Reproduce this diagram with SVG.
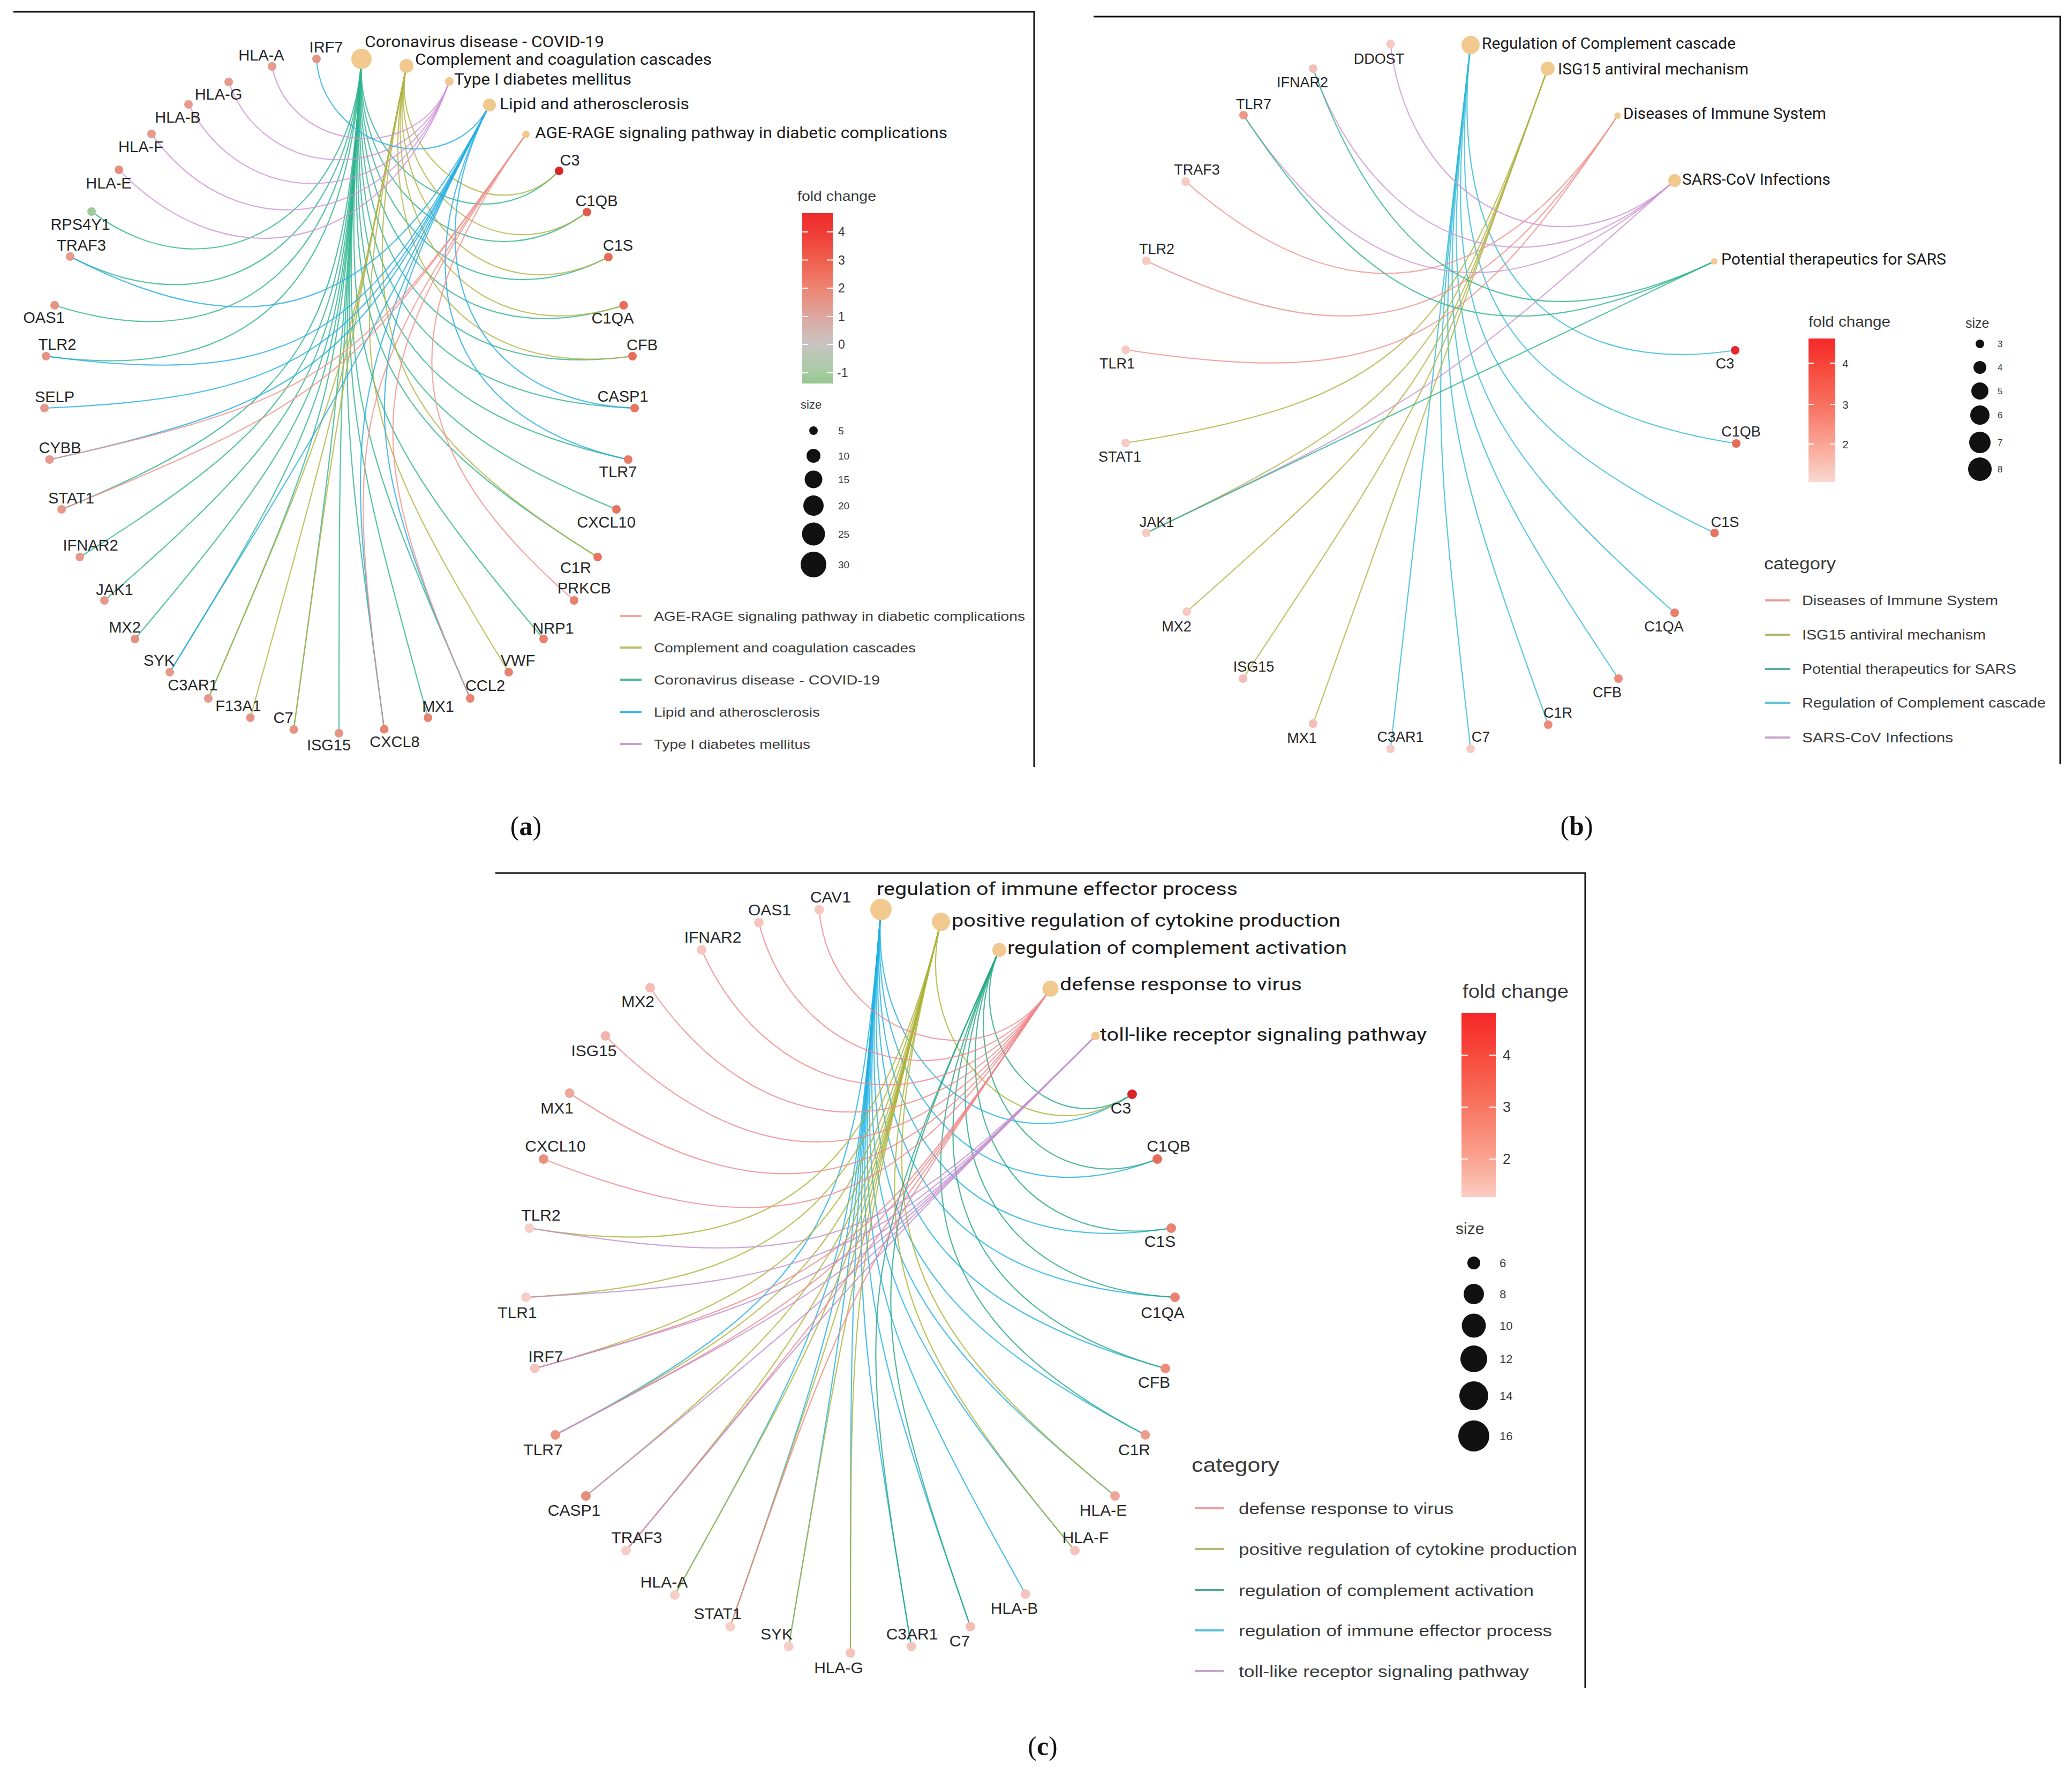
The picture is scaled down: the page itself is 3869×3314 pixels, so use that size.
<svg xmlns="http://www.w3.org/2000/svg" width="3869" height="3314" viewBox="0 0 3869 3314">
<defs>
<style>
text{font-family:"Liberation Sans",Arial,sans-serif;fill:#262626}
.la{font-size:29px;text-anchor:middle}
.lb{font-size:27px;text-anchor:middle}
.lc{font-size:30px;text-anchor:middle}
.cat{font-family:Roboto,"Liberation Sans",sans-serif;fill:#1c1c1c}
.cn{fill:#F1C88E}
.lg{fill:#3a3a3a}
.tk{fill:#3a3a3a}
.frame{stroke:#111;stroke-width:3;fill:none}
.edges path{fill:none;stroke-width:2.2;stroke-opacity:0.8}
.ea{stroke:#F0908A}.ec{stroke:#B2B342}.ev{stroke:#2DB48E}.el{stroke:#23AEE3}.et{stroke:#D190D8}
.bd{stroke:#F0908A}.bi{stroke:#B2B342}.bp{stroke:#2DB48E}.br{stroke:#30BAD8}.bs{stroke:#CC92D2}
.cd{stroke:#F0868A}.cp{stroke:#ADB236}.cr{stroke:#23A783}.ci{stroke:#1EB0E2}.ct{stroke:#C28CD0}
.lgl{stroke-width:4;fill:none}
.tick{stroke:#fff;stroke-width:2}
.sz{fill:#111}
.fig{font-family:"Liberation Serif","Times New Roman",serif;font-size:50px;fill:#111;text-anchor:middle}
</style>
<linearGradient id="gradA" x1="0" y1="0" x2="0" y2="1">
<stop offset="0" stop-color="#EE2A2C"/><stop offset="0.11" stop-color="#EF3B35"/><stop offset="0.276" stop-color="#F05F4E"/><stop offset="0.44" stop-color="#EE8472"/><stop offset="0.606" stop-color="#DDA79F"/><stop offset="0.77" stop-color="#C8C4C2"/><stop offset="0.937" stop-color="#A6CBA2"/><stop offset="1" stop-color="#94C58F"/>
</linearGradient>
<linearGradient id="gradB" x1="0" y1="0" x2="0" y2="1">
<stop offset="0" stop-color="#F4282A"/><stop offset="0.172" stop-color="#F64438"/><stop offset="0.459" stop-color="#F87060"/><stop offset="0.735" stop-color="#F9A595"/><stop offset="1" stop-color="#FAD8D0"/>
</linearGradient>
<linearGradient id="gradC" x1="0" y1="0" x2="0" y2="1">
<stop offset="0" stop-color="#F62628"/><stop offset="0.23" stop-color="#F74A3D"/><stop offset="0.512" stop-color="#F87662"/><stop offset="0.794" stop-color="#F9A390"/><stop offset="1" stop-color="#FBCDC2"/>
</linearGradient>
</defs>
<rect width="3869" height="3314" fill="#fff"/>

<g id="frames">
<path class="frame" d="M25 22H1931V1432"/>
<path class="frame" d="M2042 31H3847V1427"/>
<path class="frame" d="M925 1630H2960V3152"/>
</g>

<!-- ===== Panel A connectors ===== -->
<g id="a-edges" class="edges">
<path class="ev" d="M171 395C403.2 567.9 656 398.9 675 110"/>
<path class="ev" d="M131 479C422.8 630.3 653.4 438 675 110"/>
<path class="ev" d="M102 570C452 681.6 650.8 476.6 675 110"/>
<path class="ev" d="M86 665C486.9 719.5 648.4 513.7 675 110"/>
<path class="ev" d="M115 951C582.8 760.2 641.8 614.1 675 110"/>
<path class="ev" d="M149 1040C603 758.4 639.8 643 675 110"/>
<path class="ev" d="M195 1121C617.2 753.7 638.2 668.4 675 110"/>
<path class="ev" d="M252 1193C626.2 748.1 636.8 690 675 110"/>
<path class="ev" d="M317 1255C630.8 743.8 635.5 708.5 675 110"/>
<path class="ev" d="M389 1304C633 740.7 634.6 722.5 675 110"/>
<path class="ev" d="M548.5 1362C633.6 738.6 633.6 737.8 675 110"/>
<path class="ev" d="M633 1369C633.5 739.1 633.6 738.5 675 110"/>
<path class="ev" d="M717.5 1361.5C633.7 741 633.8 734.7 675 110"/>
<path class="ev" d="M799 1340C634.8 744.1 634.3 726.7 675 110"/>
<path class="ev" d="M878 1304C637.3 748.3 635.2 714.3 675 110"/>
<path class="ev" d="M1015 1193C649.6 758.6 637.7 676.4 675 110"/>
<path class="ev" d="M1116 1040C679.2 767.9 641.1 623.5 675 110"/>
<path class="ev" d="M1151 951C703.8 768.2 643.2 592.1 675 110"/>
<path class="ev" d="M1173 858C734.2 761.6 645.4 558.3 675 110"/>
<path class="ev" d="M1185 762C771.5 745.1 647.8 523 675 110"/>
<path class="ev" d="M1181 665C808.9 715.6 650.3 484.7 675 110"/>
<path class="ev" d="M1164.5 570C844.5 672.1 652.9 445.2 675 110"/>
<path class="ev" d="M1136 480C873.4 615.6 655.5 404.9 675 110"/>
<path class="ev" d="M1096 396C891.7 547.7 658.3 363.9 675 110"/>
<path class="ev" d="M1044 319C895.9 470.7 661.1 321.5 675 110"/>
<path class="ec" d="M1044 319C923.1 442.8 724.5 292.5 759 123"/>
<path class="ec" d="M1096 396C921.9 525.3 715.7 335.6 759 123"/>
<path class="ec" d="M1136 480C905.3 599.1 707.2 377.4 759 123"/>
<path class="ec" d="M1164.5 570C877 661.8 698.8 418.8 759 123"/>
<path class="ec" d="M1181 665C840.6 711.3 690.5 459.6 759 123"/>
<path class="ec" d="M1116 1040C698.3 779.9 660.8 605.2 759 123"/>
<path class="ec" d="M548.5 1362C633.5 739.4 633.6 738.8 759 123"/>
<path class="ec" d="M389 1304C634.9 736.2 635.6 729.4 759 123"/>
<path class="ec" d="M467.5 1340C634.2 736.9 634.2 736.2 759 123"/>
<path class="ec" d="M950 1255C649.7 765.8 644.5 685.5 759 123"/>
<path class="et" d="M508 124C541.2 286.7 784.2 308.8 839 152"/>
<path class="et" d="M427 153C495.4 347.3 771 346.4 839 152"/>
<path class="et" d="M352 195C464.3 412.2 758.3 382.8 839 152"/>
<path class="et" d="M283 250C447.3 479.5 745.8 418.5 839 152"/>
<path class="et" d="M222 317C444.8 545.8 733.5 453.5 839 152"/>
<path class="el" d="M591 110C602.3 276.7 837.4 344.5 914 196"/>
<path class="el" d="M131 479C500.6 670.6 723.1 566 914 196"/>
<path class="el" d="M86 665C557.5 729.1 695.8 618.8 914 196"/>
<path class="el" d="M83 762C585.2 741.5 683.5 642.7 914 196"/>
<path class="el" d="M92.5 858C607.8 745.1 672.1 664.8 914 196"/>
<path class="el" d="M317 1255C635 737 635.3 736.2 914 196"/>
<path class="el" d="M717.5 1361.5C638.4 775.8 643 721.2 914 196"/>
<path class="el" d="M878 1304C657.7 795.4 659.8 688.6 914 196"/>
<path class="el" d="M1173 858C825.9 781.8 751 511.8 914 196"/>
<path class="el" d="M1185 762C871.5 749.2 770.1 474.9 914 196"/>
<path class="ea" d="M92.5 858C618.5 742.8 669.4 689.3 982 251"/>
<path class="ea" d="M115 951C630.9 740.5 658.4 704.6 982 251"/>
<path class="ea" d="M878 1304C667.7 818.5 674.8 681.7 982 251"/>
<path class="ea" d="M717.5 1361.5C641.1 795.8 650.5 715.6 982 251"/>
<path class="ea" d="M1072 1121C742.1 834 728.1 607 982 251"/>
</g>

<!-- ===== Panel A category nodes ===== -->
<g id="a-cat-covid"><circle class="cn" cx="675" cy="110" r="19"/><text class="cat" x="681" y="88" font-size="29" textLength="447" lengthAdjust="spacingAndGlyphs">Coronavirus disease - COVID-19</text></g>
<g id="a-cat-complement"><circle class="cn" cx="759" cy="123" r="13"/><text class="cat" x="775" y="121" font-size="29" textLength="554" lengthAdjust="spacingAndGlyphs">Complement and coagulation cascades</text></g>
<g id="a-cat-t1d"><circle class="cn" cx="839" cy="152" r="8"/><text class="cat" x="848" y="158" font-size="29" textLength="331" lengthAdjust="spacingAndGlyphs">Type I diabetes mellitus</text></g>
<g id="a-cat-lipid"><circle class="cn" cx="914" cy="196" r="12"/><text class="cat" x="933" y="204" font-size="29" textLength="354" lengthAdjust="spacingAndGlyphs">Lipid and atherosclerosis</text></g>
<g id="a-cat-agerage"><circle class="cn" cx="982" cy="251" r="7"/><text class="cat" x="999" y="258" font-size="29" textLength="770" lengthAdjust="spacingAndGlyphs">AGE-RAGE signaling pathway in diabetic complications</text></g>

<!-- ===== Panel A gene nodes ===== -->
<g id="a-HLA-A"><circle cx="508" cy="124" r="8" fill="#E59A8C"/><text class="la" x="488" y="113">HLA-A</text></g>
<g id="a-IRF7"><circle cx="591" cy="110" r="8" fill="#E59484"/><text class="la" x="609" y="98">IRF7</text></g>
<g id="a-HLA-G"><circle cx="427" cy="153" r="8" fill="#E59A8C"/><text class="la" x="408" y="186">HLA-G</text></g>
<g id="a-HLA-B"><circle cx="352" cy="195" r="8" fill="#E59A8C"/><text class="la" x="332" y="229">HLA-B</text></g>
<g id="a-HLA-F"><circle cx="283" cy="250" r="8" fill="#E59A8C"/><text class="la" x="263" y="284">HLA-F</text></g>
<g id="a-HLA-E"><circle cx="222" cy="317" r="8" fill="#E5907F"/><text class="la" x="203" y="352">HLA-E</text></g>
<g id="a-RPS4Y1"><circle cx="171" cy="395" r="8" fill="#9DCA9B"/><text class="la" x="150" y="429">RPS4Y1</text></g>
<g id="a-TRAF3"><circle cx="131" cy="479" r="8" fill="#E59A8C"/><text class="la" x="152" y="468">TRAF3</text></g>
<g id="a-OAS1"><circle cx="102" cy="570" r="8" fill="#E59484"/><text class="la" x="82" y="603">OAS1</text></g>
<g id="a-TLR2"><circle cx="86" cy="665" r="8" fill="#E59484"/><text class="la" x="107" y="653">TLR2</text></g>
<g id="a-SELP"><circle cx="83" cy="762" r="8" fill="#E59A8C"/><text class="la" x="102" y="751">SELP</text></g>
<g id="a-CYBB"><circle cx="92.5" cy="858" r="8" fill="#E59A8C"/><text class="la" x="112" y="846">CYBB</text></g>
<g id="a-STAT1"><circle cx="115" cy="951" r="8" fill="#E59A8C"/><text class="la" x="133" y="940">STAT1</text></g>
<g id="a-IFNAR2"><circle cx="149" cy="1040" r="8" fill="#E59A8C"/><text class="la" x="169" y="1028">IFNAR2</text></g>
<g id="a-JAK1"><circle cx="195" cy="1121" r="8" fill="#E59A8C"/><text class="la" x="214" y="1111">JAK1</text></g>
<g id="a-MX2"><circle cx="252" cy="1193" r="8" fill="#E5907F"/><text class="la" x="233" y="1181">MX2</text></g>
<g id="a-SYK"><circle cx="317" cy="1255" r="8" fill="#E59A8C"/><text class="la" x="297" y="1243">SYK</text></g>
<g id="a-C3AR1"><circle cx="389" cy="1304" r="8" fill="#E59A8C"/><text class="la" x="360" y="1289">C3AR1</text></g>
<g id="a-F13A1"><circle cx="467.5" cy="1340" r="8" fill="#E59484"/><text class="la" x="445" y="1328">F13A1</text></g>
<g id="a-C7"><circle cx="548.5" cy="1362" r="8" fill="#E59484"/><text class="la" x="529" y="1350">C7</text></g>
<g id="a-ISG15"><circle cx="633" cy="1369" r="8" fill="#E59484"/><text class="la" x="614" y="1401">ISG15</text></g>
<g id="a-CXCL8"><circle cx="717.5" cy="1361.5" r="8" fill="#E5846F"/><text class="la" x="737" y="1395">CXCL8</text></g>
<g id="a-MX1"><circle cx="799" cy="1340" r="8" fill="#E5846F"/><text class="la" x="818" y="1329">MX1</text></g>
<g id="a-CCL2"><circle cx="878" cy="1304" r="8" fill="#E5846F"/><text class="la" x="906" y="1290">CCL2</text></g>
<g id="a-VWF"><circle cx="950" cy="1255" r="8" fill="#E8806C"/><text class="la" x="967" y="1243">VWF</text></g>
<g id="a-NRP1"><circle cx="1015" cy="1193" r="8" fill="#E8806C"/><text class="la" x="1033" y="1183">NRP1</text></g>
<g id="a-PRKCB"><circle cx="1072" cy="1121" r="8" fill="#E8806C"/><text class="la" x="1091" y="1108">PRKCB</text></g>
<g id="a-C1R"><circle cx="1116" cy="1040" r="8" fill="#E87560"/><text class="la" x="1075" y="1070">C1R</text></g>
<g id="a-CXCL10"><circle cx="1151" cy="951" r="8" fill="#E87560"/><text class="la" x="1132" y="985">CXCL10</text></g>
<g id="a-TLR7"><circle cx="1173" cy="858" r="8" fill="#E87A66"/><text class="la" x="1154" y="891">TLR7</text></g>
<g id="a-CASP1"><circle cx="1185" cy="762" r="8" fill="#E87560"/><text class="la" x="1163" y="750">CASP1</text></g>
<g id="a-CFB"><circle cx="1181" cy="665" r="8" fill="#E86C58"/><text class="la" x="1199" y="654">CFB</text></g>
<g id="a-C1QA"><circle cx="1164.5" cy="570" r="8" fill="#E86C58"/><text class="la" x="1144" y="604">C1QA</text></g>
<g id="a-C1S"><circle cx="1136" cy="480" r="8" fill="#E86C58"/><text class="la" x="1154" y="468">C1S</text></g>
<g id="a-C1QB"><circle cx="1096" cy="396" r="8" fill="#E45A4A"/><text class="la" x="1114" y="385">C1QB</text></g>
<g id="a-C3"><circle cx="1044" cy="319" r="8" fill="#D8262D"/><text class="la" x="1064" y="309">C3</text></g>

<!-- ===== Panel A legends ===== -->
<g id="a-legend-fold">
<text class="lg" x="1489" y="375" font-size="26" textLength="147" lengthAdjust="spacingAndGlyphs">fold change</text>
<rect x="1498" y="398" width="57" height="318" fill="url(#gradA)"/>
<path class="tick" d="M1498 433h11M1544 433h11M1498 485.5h11M1544 485.5h11M1498 538h11M1544 538h11M1498 591h11M1544 591h11M1498 643h11M1544 643h11M1498 696h11M1544 696h11"/>
<text class="tk" x="1565" y="441" font-size="23">4</text>
<text class="tk" x="1565" y="494" font-size="23">3</text>
<text class="tk" x="1565" y="546" font-size="23">2</text>
<text class="tk" x="1565" y="599" font-size="23">1</text>
<text class="tk" x="1565" y="651" font-size="23">0</text>
<text class="tk" x="1563" y="704" font-size="23">-1</text>
</g>
<g id="a-legend-size">
<text class="lg" x="1495" y="763" font-size="22">size</text>
<circle class="sz" cx="1519" cy="804" r="8"/><text class="tk" x="1565" y="811" font-size="19">5</text>
<circle class="sz" cx="1519" cy="851" r="13"/><text class="tk" x="1565" y="858" font-size="19">10</text>
<circle class="sz" cx="1519" cy="895" r="16.5"/><text class="tk" x="1565" y="902" font-size="19">15</text>
<circle class="sz" cx="1519" cy="944" r="19"/><text class="tk" x="1565" y="951" font-size="19">20</text>
<circle class="sz" cx="1519" cy="997" r="21.5"/><text class="tk" x="1565" y="1004" font-size="19">25</text>
<circle class="sz" cx="1519" cy="1054" r="24"/><text class="tk" x="1565" y="1061" font-size="19">30</text>
</g>
<g id="a-legend-category">
<path class="lgl" d="M1158 1150h40" stroke="#F0A8A2"/>
<path class="lgl" d="M1158 1209h40" stroke="#BDBE6A"/>
<path class="lgl" d="M1158 1269h40" stroke="#4DB99A"/>
<path class="lgl" d="M1158 1329h40" stroke="#3DB7E6"/>
<path class="lgl" d="M1158 1389h40" stroke="#C9A0CC"/>
<text class="lg" x="1221" y="1159" font-size="24" textLength="693" lengthAdjust="spacingAndGlyphs">AGE-RAGE signaling pathway in diabetic complications</text>
<text class="lg" x="1221" y="1218" font-size="24" textLength="489" lengthAdjust="spacingAndGlyphs">Complement and coagulation cascades</text>
<text class="lg" x="1221" y="1278" font-size="24" textLength="422" lengthAdjust="spacingAndGlyphs">Coronavirus disease - COVID-19</text>
<text class="lg" x="1221" y="1338" font-size="24" textLength="310" lengthAdjust="spacingAndGlyphs">Lipid and atherosclerosis</text>
<text class="lg" x="1221" y="1398" font-size="24" textLength="292" lengthAdjust="spacingAndGlyphs">Type I diabetes mellitus</text>
</g>

<!-- ===== Panel B connectors ===== -->
<g id="b-edges" class="edges">
<path class="br" d="M3240 654C2867.2 710.3 2703.2 458.7 2746 84"/>
<path class="br" d="M3242 828C2800.1 759.9 2695.2 528.2 2746 84"/>
<path class="br" d="M3201.6 995C2742.6 774.4 2688.1 590 2746 84"/>
<path class="br" d="M3127 1144C2705.4 770.5 2682 643.5 2746 84"/>
<path class="br" d="M3022 1267C2685.3 761.5 2677 687.5 2746 84"/>
<path class="br" d="M2891 1353C2675.3 752 2673.5 718.5 2746 84"/>
<path class="br" d="M2746 1398C2671.6 745.2 2671.4 736.7 2746 84"/>
<path class="br" d="M2596.5 1398C2670.9 741 2670.9 740.9 2746 84"/>
<path class="bi" d="M2102 827C2622.6 747.4 2712.6 623.9 2890 128"/>
<path class="bi" d="M2140.5 995C2657 746.8 2696.9 667.5 2890 128"/>
<path class="bi" d="M2216 1142C2672.2 738.9 2684.9 701.2 2890 128"/>
<path class="bi" d="M2321 1267C2673.2 736.6 2675.5 727.4 2890 128"/>
<path class="bi" d="M2452 1351C2671.1 739.6 2671.2 739.5 2890 128"/>
<path class="bd" d="M2102 653C2604.7 729.9 2738.3 639.1 3020.5 216"/>
<path class="bd" d="M2140.5 487C2556.1 685.2 2765 599 3020.5 216"/>
<path class="bd" d="M2214 339C2520.6 608 2794.2 555.3 3020.5 216"/>
<path class="bs" d="M2596.5 82C2629.6 374.4 2906.5 531.9 3127 337"/>
<path class="bs" d="M2452 128C2571 460.6 2862.2 571 3127 337"/>
<path class="bs" d="M2322 215C2547.4 554 2821.9 606.6 3127 337"/>
<path class="bs" d="M2140.5 995C2674.9 738.2 2682.7 729.7 3127 337"/>
<path class="bp" d="M2322 215C2576.8 598.3 2785.4 685.6 3201 488"/>
<path class="bp" d="M2452 128C2592 519.2 2825.8 666.4 3201 488"/>
<path class="bp" d="M2140.5 995C2670.2 740.4 2670.2 740.4 3201 488"/>
</g>

<!-- ===== Panel B category nodes ===== -->
<g id="b-cat-regcomp"><circle class="cn" cx="2746" cy="84" r="17"/><text class="cat" x="2767" y="91" font-size="29" textLength="474" lengthAdjust="spacingAndGlyphs">Regulation of Complement cascade</text></g>
<g id="b-cat-isg15"><circle class="cn" cx="2890" cy="128" r="13"/><text class="cat" x="2909" y="139" font-size="29" textLength="356" lengthAdjust="spacingAndGlyphs">ISG15 antiviral mechanism</text></g>
<g id="b-cat-immune"><circle class="cn" cx="3020.5" cy="216" r="6"/><text class="cat" x="3031" y="222" font-size="29" textLength="379" lengthAdjust="spacingAndGlyphs">Diseases of Immune System</text></g>
<g id="b-cat-sars"><circle class="cn" cx="3127" cy="337" r="12"/><text class="cat" x="3141" y="345" font-size="29" textLength="277" lengthAdjust="spacingAndGlyphs">SARS-CoV Infections</text></g>
<g id="b-cat-therap"><circle class="cn" cx="3201" cy="488" r="6"/><text class="cat" x="3214" y="494" font-size="29" textLength="420" lengthAdjust="spacingAndGlyphs">Potential therapeutics for SARS</text></g>

<!-- ===== Panel B gene nodes ===== -->
<g id="b-DDOST"><circle cx="2596.5" cy="82" r="8" fill="#F6C9C2"/><text class="lb" x="2575" y="119">DDOST</text></g>
<g id="b-IFNAR2"><circle cx="2452" cy="128" r="8" fill="#F4BEB6"/><text class="lb" x="2432" y="163">IFNAR2</text></g>
<g id="b-TLR7"><circle cx="2322" cy="215" r="8" fill="#EE9788"/><text class="lb" x="2341" y="204">TLR7</text></g>
<g id="b-TRAF3"><circle cx="2214" cy="339" r="8" fill="#F6C9C2"/><text class="lb" x="2235" y="326">TRAF3</text></g>
<g id="b-TLR2"><circle cx="2140.5" cy="487" r="8" fill="#F6C9C2"/><text class="lb" x="2160" y="474">TLR2</text></g>
<g id="b-TLR1"><circle cx="2102" cy="653" r="8" fill="#F6C9C2"/><text class="lb" x="2086" y="688">TLR1</text></g>
<g id="b-STAT1"><circle cx="2102" cy="827" r="8" fill="#F6C9C2"/><text class="lb" x="2091" y="862">STAT1</text></g>
<g id="b-JAK1"><circle cx="2140.5" cy="995" r="8" fill="#F6C9C2"/><text class="lb" x="2160" y="984">JAK1</text></g>
<g id="b-MX2"><circle cx="2216" cy="1142" r="8" fill="#F6C9C2"/><text class="lb" x="2197" y="1179">MX2</text></g>
<g id="b-ISG15"><circle cx="2321" cy="1267" r="8" fill="#F4BEB6"/><text class="lb" x="2341" y="1254">ISG15</text></g>
<g id="b-MX1"><circle cx="2452" cy="1351" r="8" fill="#F4BEB6"/><text class="lb" x="2431" y="1387">MX1</text></g>
<g id="b-C3AR1"><circle cx="2596.5" cy="1398" r="8" fill="#F6C9C2"/><text class="lb" x="2615" y="1385">C3AR1</text></g>
<g id="b-C7"><circle cx="2746" cy="1398" r="8" fill="#F6C9C2"/><text class="lb" x="2765" y="1385">C7</text></g>
<g id="b-C1R"><circle cx="2891" cy="1353" r="8" fill="#EC8A7A"/><text class="lb" x="2909" y="1340">C1R</text></g>
<g id="b-CFB"><circle cx="3022" cy="1267" r="8" fill="#EC8A7A"/><text class="lb" x="3001" y="1302">CFB</text></g>
<g id="b-C1QA"><circle cx="3127" cy="1144" r="8" fill="#EA7E6D"/><text class="lb" x="3107" y="1179">C1QA</text></g>
<g id="b-C1S"><circle cx="3201.6" cy="995" r="8" fill="#EA7462"/><text class="lb" x="3221" y="984">C1S</text></g>
<g id="b-C1QB"><circle cx="3242" cy="828" r="8" fill="#E86A58"/><text class="lb" x="3251" y="815">C1QB</text></g>
<g id="b-C3"><circle cx="3240" cy="654" r="8" fill="#E5282E"/><text class="lb" x="3221" y="688">C3</text></g>

<!-- ===== Panel B legends ===== -->
<g id="b-legend-fold">
<text class="lg" x="3377" y="610" font-size="27" textLength="153" lengthAdjust="spacingAndGlyphs">fold change</text>
<rect x="3377" y="632" width="50" height="268" fill="url(#gradB)"/>
<path class="tick" d="M3377 678h10M3417 678h10M3377 755h10M3417 755h10M3377 829h10M3417 829h10"/>
<text class="tk" x="3440" y="686" font-size="21">4</text>
<text class="tk" x="3440" y="763" font-size="21">3</text>
<text class="tk" x="3440" y="837" font-size="21">2</text>
</g>
<g id="b-legend-size">
<text class="lg" x="3670" y="612" font-size="25">size</text>
<circle class="sz" cx="3697" cy="642" r="8"/><text class="tk" x="3730" y="648" font-size="17">3</text>
<circle class="sz" cx="3697" cy="686" r="12"/><text class="tk" x="3730" y="692" font-size="17">4</text>
<circle class="sz" cx="3697" cy="730" r="16"/><text class="tk" x="3730" y="736" font-size="17">5</text>
<circle class="sz" cx="3697" cy="775" r="18"/><text class="tk" x="3730" y="781" font-size="17">6</text>
<circle class="sz" cx="3697" cy="826" r="20"/><text class="tk" x="3730" y="832" font-size="17">7</text>
<circle class="sz" cx="3697" cy="876" r="22"/><text class="tk" x="3730" y="882" font-size="17">8</text>
</g>
<g id="b-legend-category">
<text class="lg" x="3294" y="1063" font-size="31" textLength="134" lengthAdjust="spacingAndGlyphs">category</text>
<path class="lgl" d="M3296 1121h46" stroke="#E9A09A"/>
<path class="lgl" d="M3296 1185h46" stroke="#B5B570"/>
<path class="lgl" d="M3296 1249h46" stroke="#58AFA0"/>
<path class="lgl" d="M3296 1312h46" stroke="#5EC2D6"/>
<path class="lgl" d="M3296 1377h46" stroke="#C8A6CB"/>
<text class="lg" x="3365" y="1130" font-size="25" textLength="366" lengthAdjust="spacingAndGlyphs">Diseases of Immune System</text>
<text class="lg" x="3365" y="1194" font-size="25" textLength="343" lengthAdjust="spacingAndGlyphs">ISG15 antiviral mechanism</text>
<text class="lg" x="3365" y="1258" font-size="25" textLength="400" lengthAdjust="spacingAndGlyphs">Potential therapeutics for SARS</text>
<text class="lg" x="3365" y="1321" font-size="25" textLength="455" lengthAdjust="spacingAndGlyphs">Regulation of Complement cascade</text>
<text class="lg" x="3365" y="1386" font-size="25" textLength="282" lengthAdjust="spacingAndGlyphs">SARS-CoV Infections</text>
</g>

<!-- ===== Panel C connectors ===== -->
<g id="c-edges" class="edges">
<path class="ci" d="M1472.7 3074C1587.9 2390.3 1588.1 2389 1645 1698"/>
<path class="ci" d="M1588 3086C1588 2391.4 1588 2390 1645 1698"/>
<path class="ci" d="M1701.7 3074C1588.8 2394.7 1588.5 2384.3 1645 1698"/>
<path class="ci" d="M1812 3037C1591.2 2399.4 1589.6 2370.4 1645 1698"/>
<path class="ci" d="M1914.7 2976C1596.6 2405.5 1591.4 2348.9 1645 1698"/>
<path class="ci" d="M2007 2895C1607.8 2413.8 1593.7 2321.2 1645 1698"/>
<path class="ci" d="M2082 2793C1625.2 2420.3 1596.6 2285.5 1645 1698"/>
<path class="ci" d="M2138.6 2679C1652.4 2423.8 1599.9 2245.2 1645 1698"/>
<path class="ci" d="M2176 2555C1690.6 2418.8 1603.6 2200.4 1645 1698"/>
<path class="ci" d="M2194 2422C1740.3 2398.1 1607.7 2150.8 1645 1698"/>
<path class="ci" d="M2187 2293C1789.8 2357.3 1612 2099 1645 1698"/>
<path class="ci" d="M2161 2164C1837.7 2291.5 1616.5 2044.4 1645 1698"/>
<path class="ci" d="M2114 2043C1871 2203.3 1621.1 1988.1 1645 1698"/>
<path class="ci" d="M1260 2978C1585.6 2394.4 1590.1 2364 1645 1698"/>
<path class="ci" d="M1037 2679C1548.1 2410.9 1597.6 2273.1 1645 1698"/>
<path class="ci" d="M1363.6 3037C1587.8 2390.7 1588.8 2379.8 1645 1698"/>
<path class="cp" d="M982 2422C1503.8 2394.5 1629 2227.6 1757 1721"/>
<path class="cp" d="M988.6 2293C1461.4 2369.5 1639.7 2185.4 1757 1721"/>
<path class="cp" d="M1037 2679C1567.7 2400.7 1610.3 2302 1757 1721"/>
<path class="cp" d="M998.7 2555C1541.4 2403.1 1619 2267.5 1757 1721"/>
<path class="cp" d="M1094 2793C1582.3 2394.6 1602.7 2332 1757 1721"/>
<path class="cp" d="M1260 2978C1589.3 2387.8 1591.5 2376.3 1757 1721"/>
<path class="cp" d="M1472.7 3074C1587.6 2392.3 1588 2390 1757 1721"/>
<path class="cp" d="M1588 3086C1588 2398.3 1588.6 2387.8 1757 1721"/>
<path class="cp" d="M2082 2793C1648 2438.9 1619.8 2264.1 1757 1721"/>
<path class="cp" d="M2007 2895C1623.8 2433.1 1610 2302.9 1757 1721"/>
<path class="cp" d="M2114 2043C1913.3 2175.4 1698.1 1954.1 1757 1721"/>
<path class="cp" d="M1169 2895C1588.2 2389.8 1596.2 2357.5 1757 1721"/>
<path class="cp" d="M1363.6 3037C1588.7 2388.1 1588.8 2386.9 1757 1721"/>
<path class="cr" d="M2114 2043C1961.1 2143.8 1790.7 1940.4 1866 1773.5"/>
<path class="cr" d="M2161 2164C1933.4 2253.8 1765.4 1996.6 1866 1773.5"/>
<path class="cr" d="M2187 2293C1885.6 2341.8 1740.5 2051.8 1866 1773.5"/>
<path class="cr" d="M2194 2422C1831.1 2402.8 1716.6 2104.8 1866 1773.5"/>
<path class="cr" d="M2176 2555C1771.2 2441.4 1693.2 2156.7 1866 1773.5"/>
<path class="cr" d="M2138.6 2679C1719.9 2459.2 1671.6 2204.5 1866 1773.5"/>
<path class="cr" d="M1812 3037C1605.1 2439.5 1606.1 2349.9 1866 1773.5"/>
<path class="cr" d="M1701.7 3074C1594.2 2427.5 1596.6 2371 1866 1773.5"/>
<path class="cd" d="M1529.6 1698.5C1548.8 1925.9 1832.3 2034.1 1961.5 1846"/>
<path class="cd" d="M1417 1722.5C1486.3 1993 1803.5 2076.2 1961.5 1846"/>
<path class="cd" d="M1310 1773.5C1444.8 2072.3 1776 2116.2 1961.5 1846"/>
<path class="cd" d="M1214 1844C1425.2 2152.4 1749.9 2154.2 1961.5 1846"/>
<path class="cd" d="M1130.6 1934C1426.5 2229 1725 2190.4 1961.5 1846"/>
<path class="cd" d="M1063.6 2041C1446 2295.6 1701.5 2224.7 1961.5 1846"/>
<path class="cd" d="M1015 2164C1479.4 2347.2 1678.9 2257.5 1961.5 1846"/>
<path class="cd" d="M998.7 2555C1574.3 2393.8 1623.1 2338.8 1961.5 1846"/>
<path class="cd" d="M1037 2679C1588 2390 1609.3 2358.9 1961.5 1846"/>
<path class="cd" d="M1169 2895C1588 2390 1589.4 2387.9 1961.5 1846"/>
<path class="cd" d="M1363.6 3037C1581.9 2407.5 1588 2390 1961.5 1846"/>
<path class="ct" d="M982 2422C1566.3 2391.2 1631.1 2347 2045.6 1934"/>
<path class="ct" d="M988.6 2293C1539.6 2382.1 1650.2 2328 2045.6 1934"/>
<path class="ct" d="M1037 2679C1588 2390 1601.4 2376.6 2045.6 1934"/>
<path class="ct" d="M998.7 2555C1584.7 2390.9 1614.5 2363.6 2045.6 1934"/>
<path class="ct" d="M1169 2895C1584.3 2394.5 1588 2390 2045.6 1934"/>
<path class="ct" d="M1094 2793C1588 2390 1591.5 2386.5 2045.6 1934"/>
</g>

<!-- ===== Panel C category nodes ===== -->
<g id="c-cat-immeff"><circle class="cn" cx="1645" cy="1698" r="20"/><text class="cat" x="1637" y="1671" font-size="33" textLength="674" lengthAdjust="spacingAndGlyphs">regulation of immune effector process</text></g>
<g id="c-cat-cytokine"><circle class="cn" cx="1757" cy="1721" r="17"/><text class="cat" x="1777" y="1730" font-size="33" textLength="726" lengthAdjust="spacingAndGlyphs">positive regulation of cytokine production</text></g>
<g id="c-cat-complement"><circle class="cn" cx="1866" cy="1773.5" r="13"/><text class="cat" x="1881" y="1781" font-size="33" textLength="634" lengthAdjust="spacingAndGlyphs">regulation of complement activation</text></g>
<g id="c-cat-virus"><circle class="cn" cx="1961.5" cy="1846" r="15"/><text class="cat" x="1979" y="1849" font-size="33" textLength="452" lengthAdjust="spacingAndGlyphs">defense response to virus</text></g>
<g id="c-cat-tlr"><circle class="cn" cx="2045.6" cy="1934" r="8"/><text class="cat" x="2054" y="1943" font-size="33" textLength="610" lengthAdjust="spacingAndGlyphs">toll-like receptor signaling pathway</text></g>

<!-- ===== Panel C gene nodes ===== -->
<g id="c-CAV1"><circle cx="1529.6" cy="1698.5" r="9" fill="#F6C6BE"/><text class="lc" x="1551" y="1685">CAV1</text></g>
<g id="c-OAS1"><circle cx="1417" cy="1722.5" r="9" fill="#F6C6BE"/><text class="lc" x="1437" y="1709">OAS1</text></g>
<g id="c-IFNAR2"><circle cx="1310" cy="1773.5" r="9" fill="#F6C6BE"/><text class="lc" x="1331" y="1760">IFNAR2</text></g>
<g id="c-MX2"><circle cx="1214" cy="1844" r="9" fill="#F4BCB3"/><text class="lc" x="1191" y="1880">MX2</text></g>
<g id="c-ISG15"><circle cx="1130.6" cy="1934" r="9" fill="#F2B5AB"/><text class="lc" x="1109" y="1972">ISG15</text></g>
<g id="c-MX1"><circle cx="1063.6" cy="2041" r="9" fill="#EEA89C"/><text class="lc" x="1040" y="2079">MX1</text></g>
<g id="c-CXCL10"><circle cx="1015" cy="2164" r="9" fill="#E9917F"/><text class="lc" x="1037" y="2150">CXCL10</text></g>
<g id="c-TLR2"><circle cx="988.6" cy="2293" r="9" fill="#F6CEC6"/><text class="lc" x="1010" y="2279">TLR2</text></g>
<g id="c-TLR1"><circle cx="982" cy="2422" r="9" fill="#F6CEC6"/><text class="lc" x="966" y="2461">TLR1</text></g>
<g id="c-IRF7"><circle cx="998.7" cy="2555" r="9" fill="#F6C6BE"/><text class="lc" x="1019" y="2543">IRF7</text></g>
<g id="c-TLR7"><circle cx="1037" cy="2679" r="9" fill="#EC9583"/><text class="lc" x="1014" y="2717">TLR7</text></g>
<g id="c-CASP1"><circle cx="1094" cy="2793" r="9" fill="#E38E78"/><text class="lc" x="1072" y="2830">CASP1</text></g>
<g id="c-TRAF3"><circle cx="1169" cy="2895" r="9" fill="#F6CEC6"/><text class="lc" x="1189" y="2881">TRAF3</text></g>
<g id="c-HLA-A"><circle cx="1260" cy="2978" r="9" fill="#F6CEC6"/><text class="lc" x="1240" y="2964">HLA-A</text></g>
<g id="c-STAT1"><circle cx="1363.6" cy="3037" r="9" fill="#F6CEC6"/><text class="lc" x="1340" y="3023">STAT1</text></g>
<g id="c-SYK"><circle cx="1472.7" cy="3074" r="9" fill="#F6CEC6"/><text class="lc" x="1450" y="3061">SYK</text></g>
<g id="c-HLA-G"><circle cx="1588" cy="3086" r="9" fill="#F4C4BC"/><text class="lc" x="1566" y="3124">HLA-G</text></g>
<g id="c-C3AR1"><circle cx="1701.7" cy="3074" r="9" fill="#F4C4BC"/><text class="lc" x="1703" y="3061">C3AR1</text></g>
<g id="c-C7"><circle cx="1812" cy="3037" r="9" fill="#F4BCB3"/><text class="lc" x="1792" y="3074">C7</text></g>
<g id="c-HLA-B"><circle cx="1914.7" cy="2976" r="9" fill="#F4C4BC"/><text class="lc" x="1894" y="3013">HLA-B</text></g>
<g id="c-HLA-F"><circle cx="2007" cy="2895" r="9" fill="#F4C4BC"/><text class="lc" x="2027" y="2881">HLA-F</text></g>
<g id="c-HLA-E"><circle cx="2082" cy="2793" r="9" fill="#EFA69A"/><text class="lc" x="2060" y="2830">HLA-E</text></g>
<g id="c-C1R"><circle cx="2138.6" cy="2679" r="9" fill="#EE9C8E"/><text class="lc" x="2118" y="2717">C1R</text></g>
<g id="c-CFB"><circle cx="2176" cy="2555" r="9" fill="#EB8C7C"/><text class="lc" x="2155" y="2591">CFB</text></g>
<g id="c-C1QA"><circle cx="2194" cy="2422" r="9" fill="#E98270"/><text class="lc" x="2171" y="2461">C1QA</text></g>
<g id="c-C1S"><circle cx="2187" cy="2293" r="9" fill="#E98270"/><text class="lc" x="2166" y="2328">C1S</text></g>
<g id="c-C1QB"><circle cx="2161" cy="2164" r="9" fill="#E46C5A"/><text class="lc" x="2182" y="2150">C1QB</text></g>
<g id="c-C3"><circle cx="2114" cy="2043" r="9" fill="#D9232C"/><text class="lc" x="2093" y="2079">C3</text></g>

<!-- ===== Panel C legends ===== -->
<g id="c-legend-fold">
<text class="lg" x="2731" y="1863" font-size="35" textLength="198" lengthAdjust="spacingAndGlyphs">fold change</text>
<rect x="2729" y="1891" width="64" height="344" fill="url(#gradC)"/>
<path class="tick" d="M2729 1970h12M2781 1970h12M2729 2067h12M2781 2067h12M2729 2164h12M2781 2164h12"/>
<text class="tk" x="2806" y="1979" font-size="27">4</text>
<text class="tk" x="2806" y="2076" font-size="27">3</text>
<text class="tk" x="2806" y="2173" font-size="27">2</text>
</g>
<g id="c-legend-size">
<text class="lg" x="2718" y="2304" font-size="30">size</text>
<circle class="sz" cx="2752" cy="2358" r="12"/><text class="tk" x="2800" y="2366" font-size="22">6</text>
<circle class="sz" cx="2752" cy="2416" r="19"/><text class="tk" x="2800" y="2424" font-size="22">8</text>
<circle class="sz" cx="2752" cy="2475" r="22.5"/><text class="tk" x="2800" y="2483" font-size="22">10</text>
<circle class="sz" cx="2752" cy="2537" r="25"/><text class="tk" x="2800" y="2545" font-size="22">12</text>
<circle class="sz" cx="2752" cy="2606" r="27"/><text class="tk" x="2800" y="2614" font-size="22">14</text>
<circle class="sz" cx="2752" cy="2681" r="29"/><text class="tk" x="2800" y="2689" font-size="22">16</text>
</g>
<g id="c-legend-category">
<text class="lg" x="2225" y="2748" font-size="37" textLength="164" lengthAdjust="spacingAndGlyphs">category</text>
<path class="lgl" d="M2231 2816h54" stroke="#E9A3A0"/>
<path class="lgl" d="M2231 2892h54" stroke="#B7B775"/>
<path class="lgl" d="M2231 2969h54" stroke="#4FA592"/>
<path class="lgl" d="M2231 3044h54" stroke="#5DC0D6"/>
<path class="lgl" d="M2231 3120h54" stroke="#C9A5CF"/>
<text class="lg" x="2313" y="2827" font-size="30" textLength="401" lengthAdjust="spacingAndGlyphs">defense response to virus</text>
<text class="lg" x="2313" y="2903" font-size="30" textLength="632" lengthAdjust="spacingAndGlyphs">positive regulation of cytokine production</text>
<text class="lg" x="2313" y="2980" font-size="30" textLength="551" lengthAdjust="spacingAndGlyphs">regulation of complement activation</text>
<text class="lg" x="2313" y="3055" font-size="30" textLength="585" lengthAdjust="spacingAndGlyphs">regulation of immune effector process</text>
<text class="lg" x="2313" y="3131" font-size="30" textLength="542" lengthAdjust="spacingAndGlyphs">toll-like receptor signaling pathway</text>
</g>

<g id="fig-labels">
<text class="fig" x="982" y="1559">(<tspan font-weight="bold">a</tspan>)</text>
<text class="fig" x="2944" y="1559">(<tspan font-weight="bold">b</tspan>)</text>
<text class="fig" x="1947" y="3277">(<tspan font-weight="bold">c</tspan>)</text>
</g>
</svg>
